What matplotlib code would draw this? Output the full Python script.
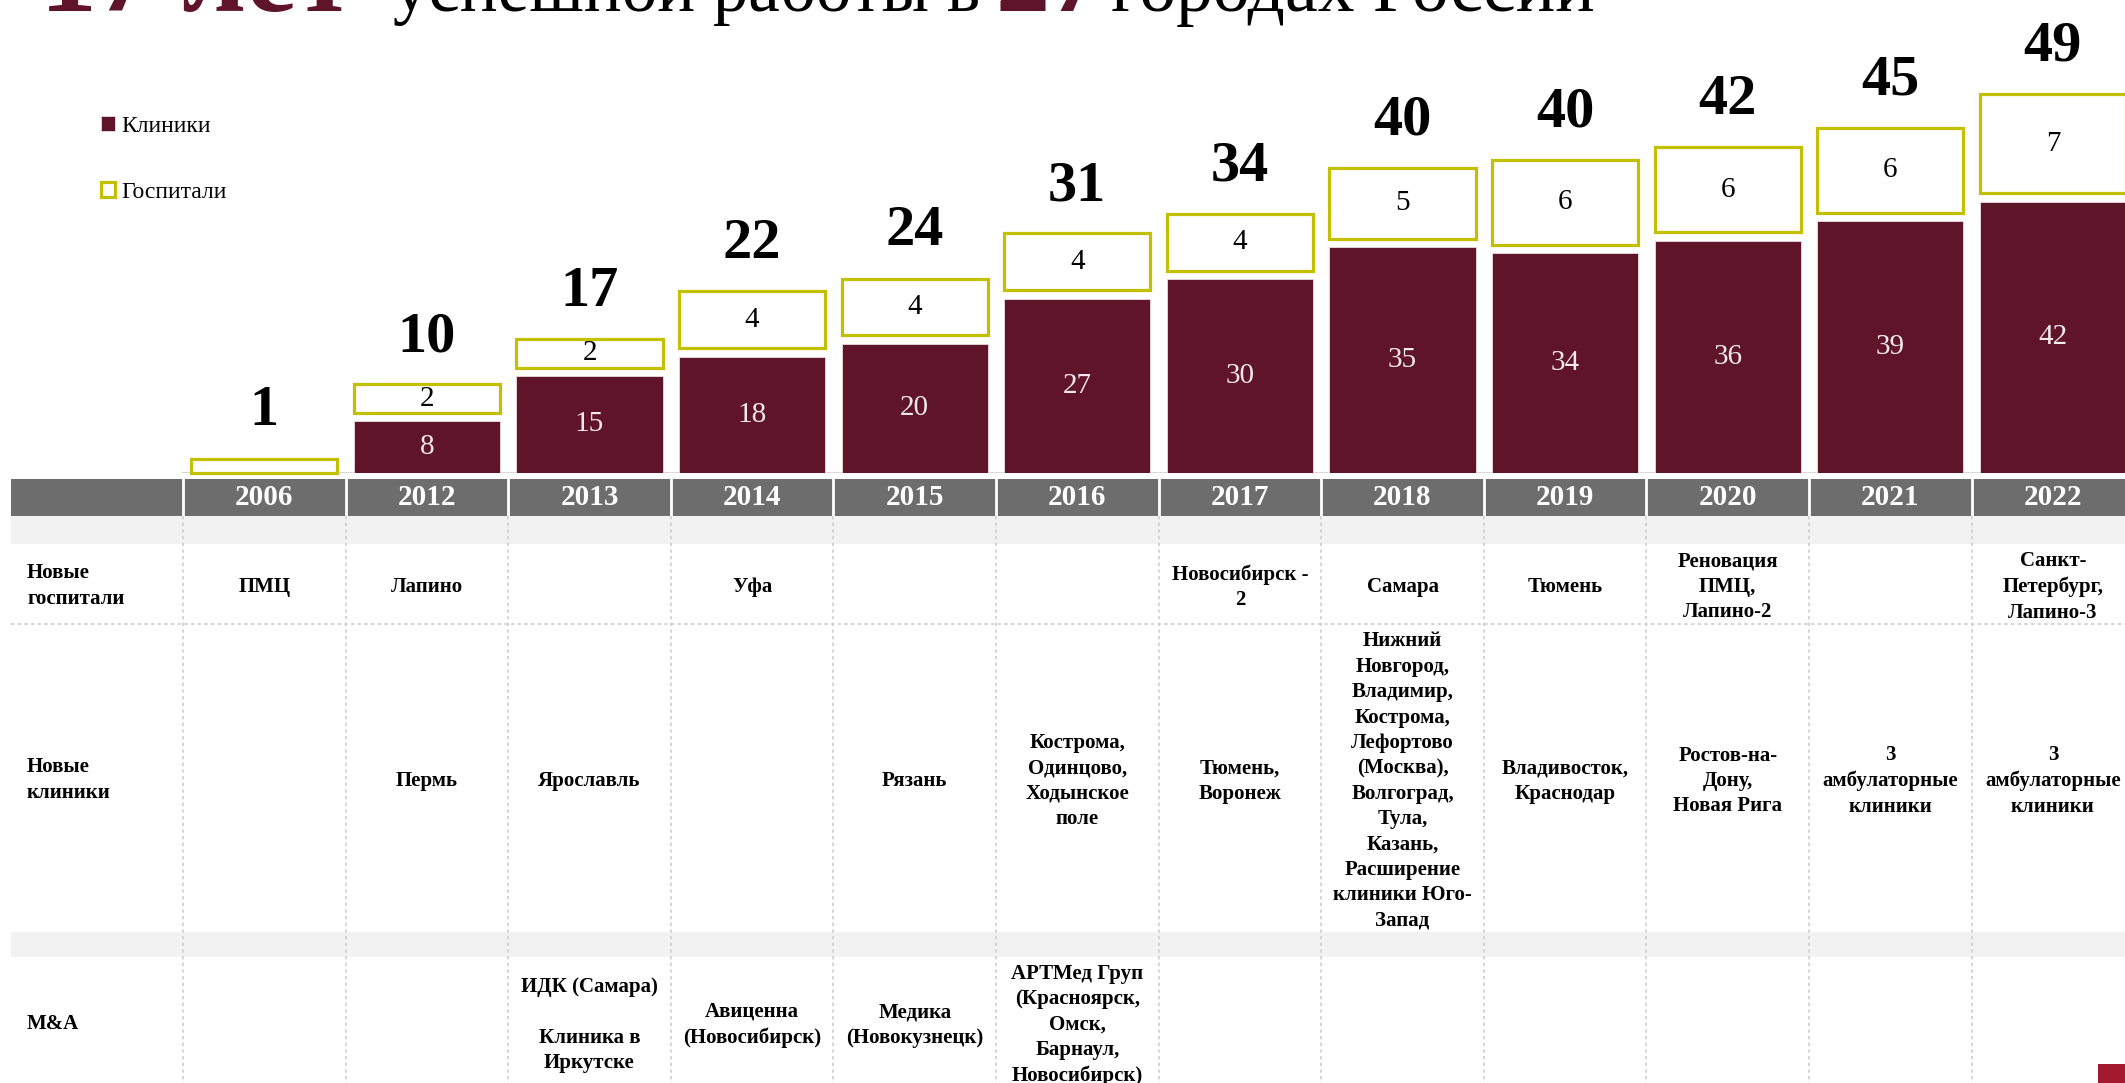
import numpy as np
import matplotlib.pyplot as plt
from matplotlib.patches import Rectangle

plt.rcParams['font.family'] = ['Liberation Serif', 'DejaVu Serif']

# data
years = ['2006', '2012', '2013', '2014', '2015', '2016', '2017', '2018', '2019', '2020', '2021', '2022']
clinics = np.array([0, 8, 15, 18, 20, 27, 30, 35, 34, 36, 39, 42])
hospitals = np.array([1, 2, 2, 4, 4, 4, 4, 5, 6, 6, 6, 7])
totals = clinics + hospitals

row_labels = ['Новые\nгоспитали', 'Новые\nклиники', 'M&A']
new_hospitals = ['ПМЦ', 'Лапино', '', 'Уфа', '', '', 'Новосибирск -\n2', 'Самара', 'Тюмень',
                 'Реновация\nПМЦ,\nЛапино-2', '', 'Санкт-\nПетербург,\nЛапино-3']
new_clinics = ['', 'Пермь', 'Ярославль', '', 'Рязань', 'Кострома,\nОдинцово,\nХодынское\nполе',
               'Тюмень,\nВоронеж',
               'Нижний\nНовгород,\nВладимир,\nКострома,\nЛефортово\n(Москва),\nВолгоград,\nТула,\nКазань,\nРасширение\nклиники Юго-\nЗапад',
               'Владивосток,\nКраснодар', 'Ростов-на-\nДону,\nНовая Рига',
               '3\nамбулаторные\nклиники', '3\nамбулаторные\nклиники']
mna = ['', '', 'ИДК (Самара)\n\nКлиника в\nИркутске', 'Авиценна\n(Новосибирск)', 'Медика\n(Новокузнецк)',
       'АРТМед Груп\n(Красноярск,\nОмск,\nБарнаул,\nНовосибирск)', '', '', '', '', '', '']

RED = '#5f1429'
YEL = '#c2c000'

W, H = 2125, 1083
COL0, COLW = 183, 162.6
x_left = -0.5 - COL0 / COLW
x_right = -0.5 + (W - COL0) / COLW

fig = plt.figure(figsize=(W / 100, H / 100), dpi=100)

# ---- bars ----
base_px = 472.7
px_unit = 6.45
ax = fig.add_axes([0, (H - base_px) / H, 1, base_px / H])
ax.set_xlim(x_left, x_right)
ax.set_ylim(0, base_px / px_unit)
ax.axis('off')

x = np.arange(len(years))
ax.plot([-0.5, x_right], [0, 0], color='#d9d9d9', lw=1.5, zorder=1)
cb = ax.bar(x, clinics, width=0.9, color=RED, edgecolor='#e8dde1', linewidth=0.6, zorder=2)
hosp_bottom = np.where(clinics > 0, clinics + 1.3, 0)
hosp_h = hospitals * 2.2
hb = ax.bar(x, hosp_h, width=0.9, bottom=hosp_bottom, facecolor='white', edgecolor=YEL,
            linewidth=2.3, zorder=3)
for p in hb:
    p.set_clip_on(False)

for xi, c, h, b, hh, t in zip(x, clinics, hospitals, hosp_bottom, hosp_h, totals):
    if c > 0:
        ax.text(xi, c / 2, str(c), ha='center', va='center', color='#f3eaee', fontsize=21)
    if h > 1:
        ax.text(xi, b + hh / 2, str(h), ha='center', va='center', color='black', fontsize=21)
    ax.annotate(str(t), (xi, b + hh), xytext=(0, 24), textcoords='offset points',
                ha='center', va='baseline', fontsize=42, fontweight='bold', annotation_clip=False)

ax.legend([cb, hb], ['Клиники', 'Госпитали'], loc='upper left',
          bbox_to_anchor=(101 / W, 1 - 116 / H), bbox_transform=fig.transFigure,
          frameon=False, fontsize=17, handlelength=0.6, handleheight=0.6,
          handletextpad=0.25, labelspacing=1.9, borderpad=0, borderaxespad=0)

# ---- table ----
top_px = 479
tax = fig.add_axes([0, 0, 1, (H - top_px) / H])
tax.set_xlim(x_left, x_right)
tax.set_ylim(H - top_px, 0)
tax.axis('off')

x_tab = x_left + 11 / COLW
head = (0, 37)
band1 = (37, 65)
rows = [(65, 145), (145, 453), (478, 608)]
band2 = (453, 478)

tax.add_patch(Rectangle((x_tab, head[0]), x_right - x_tab, head[1] - head[0], color='#6d6d6d', lw=0))
for b in (band1, band2):
    tax.add_patch(Rectangle((x_tab, b[0]), x_right - x_tab, b[1] - b[0], color='#f2f2f2', lw=0))

edges = np.arange(-0.5, len(years) + 0.5)
for e in edges:
    tax.plot([e, e], [head[0], head[1]], color='white', lw=2)
    tax.plot([e, e], [head[1], rows[2][1]], color='#cfcfcf', lw=1.2, ls=(0, (2, 2)))
tax.plot([x_tab, x_right], [rows[0][1], rows[0][1]], color='#cfcfcf', lw=1.2, ls=(0, (2, 2)))

for i, y in enumerate(years):
    tax.text(i, sum(head) / 2, y, ha='center', va='center', color='white',
             fontsize=21, fontweight='bold')

for lab, (r0, r1) in zip(row_labels, rows):
    tax.text(x_tab + 16 / COLW, (r0 + r1) / 2 + 2, lab, ha='left', va='center',
             fontsize=15, fontweight='bold', linespacing=1.35)

for cells, (r0, r1) in zip([new_hospitals, new_clinics, mna], rows):
    for i, txt in enumerate(cells):
        if txt:
            tax.text(i, (r0 + r1) / 2 + 3, txt, ha='center', va='center',
                     fontsize=15, fontweight='bold', linespacing=1.36)

# ---- title (cut at top) ----
ty = 1 - 11 / H
fig.text(40 / W, ty, '17 лет', fontsize=82, fontweight='bold', color=RED, va='baseline')
fig.text(393 / W, ty, 'успешной работы в', fontsize=51, color='black', va='baseline')
fig.text(996 / W, ty, '27', fontsize=78, fontweight='bold', color=RED, va='baseline')
fig.text(1111 / W, ty, 'городах России', fontsize=53, color='black', va='baseline')

fig.add_artist(Rectangle((2098 / W, 0), 27 / W, 19 / H, transform=fig.transFigure,
                         color='#a3192e', lw=0))

fig.savefig('out.png', dpi=100)
